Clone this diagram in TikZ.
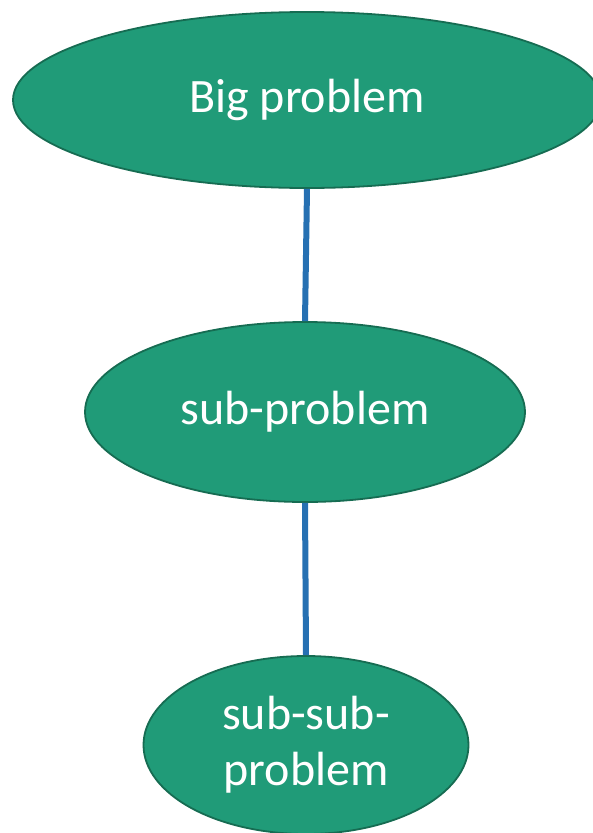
\documentclass[tikz,border=0pt]{standalone}
\usepackage{fontspec}
\setmainfont{Carlito}
\usepackage{tikz}
\usetikzlibrary{shapes.geometric}
\definecolor{leaf}{RGB}{32,155,120}
\definecolor{leafline}{RGB}{22,108,82}
\definecolor{branch}{RGB}{38,112,178}

\begin{document}
\begin{tikzpicture}[x=1pt,y=-1pt,
  prob/.style={ellipse,draw=leafline,line width=1.8pt,fill=leaf,text=white,inner sep=0pt,
    align=center,font=\fontsize{48}{56}\selectfont},
  link/.style={draw=branch,line width=6pt}]
\useasboundingbox (0,0) rectangle (593,833);
\clip (0,0) rectangle (593,833);
\node [prob,minimum width=588pt,minimum height=176pt] (big) at (307,100) {Big problem};
\node [prob,minimum width=440pt,minimum height=180pt] (sub) at (305,412) {sub-problem};
\node [prob,minimum width=325pt,minimum height=178pt] (subsub) at (306,745) {sub-sub-\\problem};
\draw [link] (big.south) -- (sub.north);
\draw [link] (sub.south) -- (subsub.north);
\end{tikzpicture}
\end{document}
